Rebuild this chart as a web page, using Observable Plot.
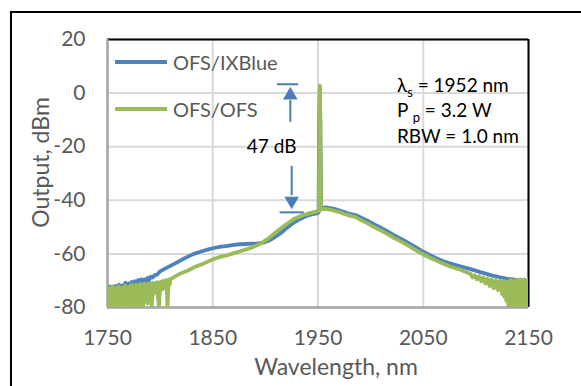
<!DOCTYPE html>
<html>
<head>
<meta charset="utf-8">
<script src="https://cdn.jsdelivr.net/npm/d3@7"></script>
<script src="https://cdn.jsdelivr.net/npm/@observablehq/plot@0.6"></script>
<style>
  html, body { margin: 0; padding: 0; background: white; }
  #wrap { position: relative; width: 581px; height: 386px; overflow: hidden; font-family: Lato, "Open Sans", sans-serif; }
  #outer { position: absolute; left: 10px; top: 11px; width: 700px; height: 500px; border-left: 2px solid #000; border-top: 2px solid #000; }
  .leg { position: absolute; left: 115px; height: 24px; display: flex; align-items: center; }
  .leg .sw { width: 52px; height: 4px; margin-right: 6px; }
  .leg .lb { font-size: 20px; color: #595959; }
</style>
</head>
<body>
<div id="wrap">
  <div id="outer"></div>
  <div id="chart"></div>
  <div id="legend"></div>
</div>
<script>
// ---- data ----
const seriesNames = ["OFS/IXBlue", "OFS/OFS"];
const seriesColors = ["#4f81bd", "#9bbb59"];

const xTicks = [1750, 1850, 1950, 2050, 2150];
const yTicks = [-80, -60, -40, -20, 0, 20];

const blueNm = [1750, 1750.5, 1752, 1753.5, 1755, 1756.5, 1758, 1759.5, 1761, 1762.5, 1764, 1765.5, 1767, 1768.5, 1770, 1771.5, 1773, 1774.5, 1776, 1777.5, 1779, 1780.5, 1782, 1783.5, 1785, 1786.5, 1788, 1789.5, 1791, 1793, 1795, 1797, 1800, 1806, 1813, 1820, 1826, 1832, 1839, 1845, 1851, 1858, 1864, 1870, 1876, 1882, 1888, 1893, 1898, 1902, 1906, 1911, 1916, 1921, 1926, 1931, 1936, 1940, 1945, 1949, 1950.5, 1951.2, 1951.7, 1952.2, 1953, 1957, 1963, 1969, 1975, 1980, 1985, 1990, 1997, 2003, 2010, 2016, 2022, 2029, 2035, 2042, 2050, 2057, 2063, 2070, 2076, 2085, 2095, 2105, 2115, 2124, 2130, 2135, 2139, 2140.5, 2142, 2143, 2146, 2150];
const blueDbm = [-80, -73, -72.2, -74, -72.5, -73.8, -72, -73.2, -71.5, -72.8, -71.8, -73, -70.8, -72, -71, -72.2, -70.5, -71.5, -70.2, -71.5, -69.8, -71, -69.5, -70.8, -69.5, -70.2, -69, -69.8, -68.5, -68.8, -67.8, -67.8, -66.5, -65.2, -63.8, -62.3, -61.1, -60, -59.1, -58.4, -57.8, -57.3, -57, -56.6, -56.4, -56.3, -56.2, -56.1, -55.8, -55.3, -54.5, -53.2, -51.8, -50.1, -48.6, -47.4, -46.4, -45.7, -45.2, -44.9, -44.5, -10, 2, -10, -43, -42.6, -43, -43.6, -44.4, -45.1, -45.4, -46.3, -47.6, -48.9, -50.3, -51.6, -53, -54.4, -55.7, -57.3, -59.2, -60.6, -61.7, -62.9, -63.6, -64.6, -65.7, -66.9, -68, -68.8, -69.3, -69.5, -69.8, -80, -80, -69.8, -70, -70.5];

const greenNm = [1750, 1751, 1752, 1753, 1754, 1755, 1756, 1757, 1758, 1759, 1760, 1761, 1762, 1763, 1764, 1765, 1766, 1767, 1768, 1769, 1770, 1771, 1772, 1773, 1774, 1775, 1776, 1777, 1778, 1779, 1780, 1781, 1782, 1783, 1784, 1785, 1786, 1787, 1788, 1789, 1790, 1791, 1792, 1793, 1794, 1795, 1796, 1797, 1798, 1799, 1800, 1801, 1802, 1803, 1804, 1805, 1806, 1807, 1808, 1809, 1810, 1812, 1815, 1820, 1826, 1832, 1839, 1845, 1851, 1858, 1864, 1870, 1876, 1882, 1888, 1893, 1898, 1903, 1908, 1913, 1918, 1923, 1927, 1932, 1937, 1942, 1946, 1949, 1950.8, 1951.3, 1951.8, 1952.3, 1952.8, 1955, 1958, 1963, 1969, 1975, 1980, 1985, 1990, 1997, 2003, 2010, 2016, 2022, 2029, 2035, 2042, 2050, 2057, 2063, 2067, 2076, 2086, 2095, 2097, 2099, 2101, 2103, 2105, 2107, 2109, 2111, 2113, 2115, 2117, 2119, 2121, 2123, 2125, 2126, 2127, 2128, 2129, 2130, 2131, 2132, 2133, 2134, 2135, 2136, 2137, 2138, 2139, 2140, 2141, 2142, 2143, 2144, 2145, 2146, 2147, 2148, 2149, 2150];
const greenDbm = [-80, -72.5, -80, -73, -79, -72, -80, -73.5, -78, -72.5, -80, -72, -79.5, -73, -80, -72.5, -78.5, -71.8, -80, -72.8, -79, -72, -80, -71.5, -78, -72.5, -80, -71.5, -79, -72, -80, -71.2, -78, -72, -79.5, -71, -77, -71.5, -78.5, -71, -76, -71.2, -80, -70.8, -75, -71, -74, -70.5, -76, -80, -70.5, -73.5, -70.2, -73, -70, -72.5, -69.8, -80, -69.6, -71.5, -69.3, -69, -68.2, -67.2, -66.3, -65, -64, -62.9, -61.9, -61, -60.5, -59.7, -59, -58.3, -57.5, -56.6, -55.5, -54.2, -52.6, -51, -49.5, -48.1, -47, -46.1, -45.4, -44.8, -44.4, -44.1, -44, -20, 2.8, -20, -43.5, -43.2, -43.3, -43.6, -44.3, -45.1, -45.7, -46.2, -47.2, -48.6, -49.9, -51.3, -52.6, -54, -55.4, -56.7, -58.4, -60.2, -61.5, -62.6, -63.3, -64.8, -66, -67.5, -68.8, -68, -69.5, -68.3, -70.2, -68.8, -71, -69.2, -72, -69.5, -72.8, -69.8, -73.5, -70, -75, -70.2, -76, -70.3, -77.5, -70.5, -80, -70, -80, -69.8, -80, -70.5, -80, -69.8, -79, -70.2, -80, -69.5, -80, -70, -80, -69.5, -79, -70, -80, -69.5];

// 47 dB annotation
const gapLabel = "47 dB";
const gapTop = 3.3, gapBottom = -44.5;
const infoLines = ["λs = 1952 nm", "Pp = 3.2 W", "RBW = 1.0 nm"];
const infoY = [2.8, -6.8, -16.5];
const infoX = 2025;

// ---- build ----
const blue = blueNm.map((x, i) => ({x, y: blueDbm[i]}));
const green = greenNm.map((x, i) => ({x, y: greenDbm[i]}));
const arrowColor = "#4a7ebb";
const font = "Lato, 'Open Sans', sans-serif";
const fmt = d => String(d);

const chart = Plot.plot({
  width: 581,
  height: 386,
  marginTop: 39,
  marginRight: 53,
  marginBottom: 79,
  marginLeft: 107,
  style: {fontFamily: font, background: "transparent", overflow: "visible"},
  x: {domain: [1750, 2150]},
  y: {domain: [-80, 20]},
  marks: [
    Plot.gridX(xTicks, {stroke: "#d9d9d9", strokeWidth: 2, strokeOpacity: 1}),
    Plot.gridY(yTicks, {stroke: "#d9d9d9", strokeWidth: 2, strokeOpacity: 1}),
    Plot.ruleY([20], {stroke: "#000", strokeWidth: 2}),
    Plot.ruleX([2150], {stroke: "#000", strokeWidth: 2}),
    Plot.ruleX([1750], {stroke: "#a6a6a6", strokeWidth: 2.5}),
    Plot.ruleY([-80], {stroke: "#a6a6a6", strokeWidth: 2.5}),
    Plot.axisX(xTicks, {tickSize: 0, tickPadding: 23, fontSize: 21, fill: "#595959", label: null, tickFormat: fmt}),
    Plot.axisY(yTicks, {tickSize: 0, tickPadding: 22, fontSize: 21, fill: "#595959", label: null, tickFormat: fmt}),
    Plot.line(blue, {x: "x", y: "y", stroke: seriesColors[0], strokeWidth: 3.8, clip: true}),
    Plot.line(green, {x: "x", y: "y", stroke: seriesColors[1], strokeWidth: 3.8, clip: true}),
    // annotation arrows
    Plot.ruleY([gapTop], {x1: 1911.5, x2: 1931.7, stroke: arrowColor, strokeWidth: 2}),
    Plot.ruleX([1923.7], {y1: -2.8, y2: -10.9, stroke: arrowColor, strokeWidth: 2}),
    Plot.dot([[1923.7, -0.8]], {x: d => d[0], y: d => d[1], symbol: "triangle", r: 5.4, fill: arrowColor, stroke: null}),
    Plot.ruleX([1925], {y1: -27.3, y2: -38.3, stroke: arrowColor, strokeWidth: 2}),
    Plot.dot([[1925, -40.2]], {x: d => d[0], y: d => d[1], symbol: "triangle", r: 5.4, rotate: 180, fill: arrowColor, stroke: null}),
    Plot.ruleY([gapBottom], {x1: 1914, x2: 1937, stroke: arrowColor, strokeWidth: 2}),
    Plot.text([gapLabel], {x: 1906, y: -20.2, text: d => d, fontSize: 19, fill: "#000"}),
    Plot.text(infoLines, {x: infoX, y: (d, i) => infoY[i], text: d => d, textAnchor: "start", fontSize: 19, fill: "#000"}),
    // axis titles
    Plot.text(["Output, dBm"], {frameAnchor: "left", text: d => d, rotate: -90, dx: -66, dy: -11, textAnchor: "middle", lineAnchor: "middle", fontSize: 23, fill: "#595959"}),
    Plot.text(["Wavelength, nm"], {frameAnchor: "bottom", text: d => d, dx: 18, dy: 60, textAnchor: "middle", lineAnchor: "middle", fontSize: 23, fill: "#595959"})
  ]
});
document.getElementById("chart").appendChild(chart);

// subscripts
d3.select(chart).selectAll("text").each(function () {
  const t = this.textContent;
  const el = d3.select(this);
  if (t === "λs = 1952 nm" || t === "Pp = 3.2 W") {
    const parts = t === "λs = 1952 nm" ? ["λ", "s", " = 1952 nm"] : ["P ", "p", " = 3.2 W"];
    el.text(null);
    el.append("tspan").text(parts[0]);
    el.append("tspan").attr("dy", 5).attr("font-size", 13).text(parts[1]);
    el.append("tspan").attr("dy", -5).text(parts[2]);
  }
});

// legend
const legend = document.getElementById("legend");
const legendTop = [50, 97];
seriesNames.forEach((name, i) => {
  const row = document.createElement("div");
  row.className = "leg";
  row.style.top = legendTop[i] + "px";
  row.innerHTML = `<div class="sw" style="background:${seriesColors[i]}"></div><div class="lb">${name}</div>`;
  legend.appendChild(row);
});
</script>
</body>
</html>
